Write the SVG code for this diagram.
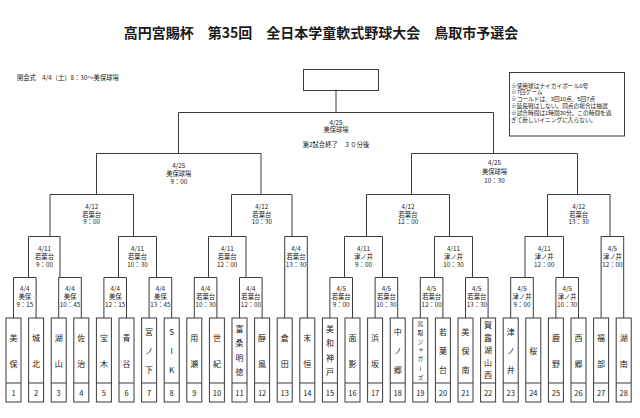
<svg xmlns="http://www.w3.org/2000/svg" width="640" height="418" viewBox="0 0 640 418">
<style>
text{font-family:"Noto Sans CJK JP","Noto Sans",sans-serif;fill:#1a1a1a}
.title{font-size:14px;font-weight:bold;text-anchor:middle}
.s{font-size:6.3px}
.nt{font-family:"Liberation Sans","Noto Sans CJK JP",sans-serif;font-size:5.7px}
.b{font-size:6.3px;text-anchor:middle}
.nm{font-size:8px;text-anchor:middle}
.nm2{font-size:5.8px}
.num{font-size:7.5px;text-anchor:middle}
.box{fill:none;stroke:#3a3a3a;stroke-width:1}
.br{fill:none;stroke:#3a3a3a;stroke-width:1}
</style>
<rect width="640" height="418" fill="#fff"/>
<text class="title" x="321" y="38">高円宮賜杯　第35回　全日本学童軟式野球大会　鳥取市予選会</text>
<text class="s" x="17" y="80">開会式　4/4（土）8：30～美保球場</text>

<g id="champion"><rect class="box" x="303.5" y="69.5" width="75" height="21"/></g>

<g id="notes">
<rect class="box" x="509.5" y="72.5" width="115" height="63.5"/>
<text class="nt" x="511" y="87.5">※使用球はナイガイボール0号</text>
<text class="nt" x="511" y="94.3">※7回ゲーム</text>
<text class="nt" x="511" y="101.1">※コールドは、3回10点、5回7点</text>
<text class="nt" x="511" y="107.9">※延長戦はしない。同点の場合は抽選</text>
<text class="nt" x="511" y="114.7">※試合時間は1時間30分。この時間を過</text>
<text class="nt" x="511" y="121.5">ぎて新しいイニングに入らない。</text>
</g>

<g id="connectors">
<path class="br" d="M336 90.5V112"/>
<path class="br" d="M178.5 153V112.5H493.5V153"/>
<path class="br" d="M96.5 194V153.5H261V194"/>
<path class="br" d="M411.5 194V153.5H577.5V194"/>
<path class="br" d="M50 236V194.5H133.5V236"/>
<path class="br" d="M231.5 236V194.5H292V236"/>
<path class="br" d="M366.5 236V194.5H449.5V236"/>
<path class="br" d="M547.5 236V194.5H610V236"/>
<path class="br" d="M28.5 277V236.5H60V277"/>
<path class="br" d="M118.5 277V236.5H156.5V277"/>
<path class="br" d="M208.5 277V236.5H246V277"/>
<path class="br" d="M284.7 318V236.5H307.3V318"/>
<path class="br" d="M344.5 277V236.5H382.5V277"/>
<path class="br" d="M434.5 277V236.5H472.5V277"/>
<path class="br" d="M525 277V236.5H563.5V277"/>
<path class="br" d="M601.1 318V236.5H623.7V318"/>
<path class="br" d="M13.5 318V277.5H36.1V318"/>
<path class="br" d="M58.7 318V277.5H81.3V318"/>
<path class="br" d="M103.9 318V277.5H126.5V318"/>
<path class="br" d="M149.1 318V277.5H171.7V318"/>
<path class="br" d="M194.3 318V277.5H216.9V318"/>
<path class="br" d="M239.5 318V277.5H262.1V318"/>
<path class="br" d="M329.9 318V277.5H352.5V318"/>
<path class="br" d="M375.1 318V277.5H397.7V318"/>
<path class="br" d="M420.3 318V277.5H442.9V318"/>
<path class="br" d="M465.5 318V277.5H488.1V318"/>
<path class="br" d="M510.7 318V277.5H533.3V318"/>
<path class="br" d="M555.9 318V277.5H578.5V318"/>
</g>

<g id="m-final"><text class="b" x="336" y="124.5">4/25</text><text class="b" x="336" y="132">美保球場</text><text class="b" x="336" y="146.5">第2試合終了　３０分後</text></g>
<g id="m-sf1"><text class="b" x="178.8" y="167.5">4/25</text><text class="b" x="178.8" y="175.5">美保球場</text><text class="b" x="178.8" y="183.5">9：00</text></g>
<g id="m-sf2"><text class="b" x="494.5" y="165">4/25</text><text class="b" x="494.5" y="174">美保球場</text><text class="b" x="494.5" y="182.5">10：30</text></g>
<g id="m-qf1"><text class="b" x="91.7" y="209">4/12</text><text class="b" x="91.7" y="216.5">若葉台</text><text class="b" x="91.7" y="224">9：00</text></g>
<g id="m-qf2"><text class="b" x="261.8" y="209">4/12</text><text class="b" x="261.8" y="216.5">若葉台</text><text class="b" x="261.8" y="224">10：30</text></g>
<g id="m-qf3"><text class="b" x="408" y="209">4/12</text><text class="b" x="408" y="216.5">若葉台</text><text class="b" x="408" y="224">12：00</text></g>
<g id="m-qf4"><text class="b" x="578.7" y="209">4/12</text><text class="b" x="578.7" y="216.5">若葉台</text><text class="b" x="578.7" y="224">13：30</text></g>
<g id="m-r2a"><text class="b" x="44.5" y="250.5">4/11</text><text class="b" x="44.5" y="258.5">若葉台</text><text class="b" x="44.5" y="266.5">9：00</text></g>
<g id="m-r2b"><text class="b" x="137.5" y="250.5">4/11</text><text class="b" x="137.5" y="258.5">若葉台</text><text class="b" x="137.5" y="266.5">10：30</text></g>
<g id="m-r2c"><text class="b" x="227.2" y="250.5">4/11</text><text class="b" x="227.2" y="258.5">若葉台</text><text class="b" x="227.2" y="266.5">12：00</text></g>
<g id="m-r2g"><text class="b" x="296" y="250.5">4/4</text><text class="b" x="296" y="258.5">若葉台</text><text class="b" x="296" y="266.5">13：30</text></g>
<g id="m-r2d"><text class="b" x="363.5" y="250.5">4/11</text><text class="b" x="363.5" y="258.5">津ノ井</text><text class="b" x="363.5" y="266.5">9：00</text></g>
<g id="m-r2e"><text class="b" x="453.5" y="250.5">4/11</text><text class="b" x="453.5" y="258.5">津ノ井</text><text class="b" x="453.5" y="266.5">10：30</text></g>
<g id="m-r2f"><text class="b" x="544.2" y="250.5">4/11</text><text class="b" x="544.2" y="258.5">津ノ井</text><text class="b" x="544.2" y="266.5">12：00</text></g>
<g id="m-r2n"><text class="b" x="612.4" y="250.5">4/5</text><text class="b" x="612.4" y="258.5">津ノ井</text><text class="b" x="612.4" y="266.5">12：00</text></g>
<g id="m-r1a"><text class="b" x="24.8" y="291">4/4</text><text class="b" x="24.8" y="299">美保</text><text class="b" x="24.8" y="307">9：15</text></g>
<g id="m-r1b"><text class="b" x="70" y="291">4/4</text><text class="b" x="70" y="299">美保</text><text class="b" x="70" y="307">10：45</text></g>
<g id="m-r1c"><text class="b" x="115.2" y="291">4/4</text><text class="b" x="115.2" y="299">美保</text><text class="b" x="115.2" y="307">12：15</text></g>
<g id="m-r1d"><text class="b" x="160.4" y="291">4/4</text><text class="b" x="160.4" y="299">美保</text><text class="b" x="160.4" y="307">13：45</text></g>
<g id="m-r1e"><text class="b" x="205.6" y="291">4/4</text><text class="b" x="205.6" y="299">若葉台</text><text class="b" x="205.6" y="307">10：30</text></g>
<g id="m-r1f"><text class="b" x="250.8" y="291">4/4</text><text class="b" x="250.8" y="299">若葉台</text><text class="b" x="250.8" y="307">12：00</text></g>
<g id="m-r1h"><text class="b" x="341.2" y="291">4/5</text><text class="b" x="341.2" y="299">若葉台</text><text class="b" x="341.2" y="307">9：00</text></g>
<g id="m-r1i"><text class="b" x="386.4" y="291">4/5</text><text class="b" x="386.4" y="299">若葉台</text><text class="b" x="386.4" y="307">10：30</text></g>
<g id="m-r1j"><text class="b" x="431.6" y="291">4/5</text><text class="b" x="431.6" y="299">若葉台</text><text class="b" x="431.6" y="307">12：00</text></g>
<g id="m-r1k"><text class="b" x="476.8" y="291">4/5</text><text class="b" x="476.8" y="299">若葉台</text><text class="b" x="476.8" y="307">13：30</text></g>
<g id="m-r1l"><text class="b" x="522" y="291">4/5</text><text class="b" x="522" y="299">津ノ井</text><text class="b" x="522" y="307">9：00</text></g>
<g id="m-r1m"><text class="b" x="567.2" y="291">4/5</text><text class="b" x="567.2" y="299">津ノ井</text><text class="b" x="567.2" y="307">10：30</text></g>

<g id="team1"><rect class="box" x="6" y="318" width="15" height="84"/><path class="box" d="M6 383H21"/><text class="nm"><tspan x="13.5" y="340.5">美</tspan><tspan x="13.5" y="366.5">保</tspan></text><text class="num" x="13.5" y="395.5">1</text></g>
<g id="team2"><rect class="box" x="28.6" y="318" width="15" height="84"/><path class="box" d="M28.6 383H43.6"/><text class="nm"><tspan x="36.1" y="340.5">城</tspan><tspan x="36.1" y="366.5">北</tspan></text><text class="num" x="36.1" y="395.5">2</text></g>
<g id="team3"><rect class="box" x="51.2" y="318" width="15" height="84"/><path class="box" d="M51.2 383H66.2"/><text class="nm"><tspan x="58.7" y="340.5">湖</tspan><tspan x="58.7" y="366.5">山</tspan></text><text class="num" x="58.7" y="395.5">3</text></g>
<g id="team4"><rect class="box" x="73.8" y="318" width="15" height="84"/><path class="box" d="M73.8 383H88.8"/><text class="nm"><tspan x="81.3" y="340.5">佐</tspan><tspan x="81.3" y="366.5">治</tspan></text><text class="num" x="81.3" y="395.5">4</text></g>
<g id="team5"><rect class="box" x="96.4" y="318" width="15" height="84"/><path class="box" d="M96.4 383H111.4"/><text class="nm"><tspan x="103.9" y="340.5">宝</tspan><tspan x="103.9" y="366.5">木</tspan></text><text class="num" x="103.9" y="395.5">5</text></g>
<g id="team6"><rect class="box" x="119" y="318" width="15" height="84"/><path class="box" d="M119 383H134"/><text class="nm"><tspan x="126.5" y="340.5">青</tspan><tspan x="126.5" y="366.5">谷</tspan></text><text class="num" x="126.5" y="395.5">6</text></g>
<g id="team7"><rect class="box" x="141.6" y="318" width="15" height="84"/><path class="box" d="M141.6 383H156.6"/><text class="nm"><tspan x="149.1" y="335">宮</tspan><tspan x="149.1" y="354">ノ</tspan><tspan x="149.1" y="373">下</tspan></text><text class="num" x="149.1" y="395.5">7</text></g>
<g id="team8"><rect class="box" x="164.2" y="318" width="15" height="84"/><path class="box" d="M164.2 383H179.2"/><text class="nm"><tspan x="171.7" y="335">S</tspan><tspan x="171.7" y="354">I</tspan><tspan x="171.7" y="373">K</tspan></text><text class="num" x="171.7" y="395.5">8</text></g>
<g id="team9"><rect class="box" x="186.8" y="318" width="15" height="84"/><path class="box" d="M186.8 383H201.8"/><text class="nm"><tspan x="194.3" y="340.5">用</tspan><tspan x="194.3" y="366.5">瀬</tspan></text><text class="num" x="194.3" y="395.5">9</text></g>
<g id="team10"><rect class="box" x="209.4" y="318" width="15" height="84"/><path class="box" d="M209.4 383H224.4"/><text class="nm"><tspan x="216.9" y="340.5">世</tspan><tspan x="216.9" y="366.5">紀</tspan></text><text class="num" x="216.9" y="395.5">10</text></g>
<g id="team11"><rect class="box" x="232" y="318" width="15" height="84"/><path class="box" d="M232 383H247"/><text class="nm"><tspan x="239.5" y="331.5">富</tspan><tspan x="239.5" y="346">桑</tspan><tspan x="239.5" y="360.5">明</tspan><tspan x="239.5" y="375">徳</tspan></text><text class="num" x="239.5" y="395.5">11</text></g>
<g id="team12"><rect class="box" x="254.6" y="318" width="15" height="84"/><path class="box" d="M254.6 383H269.6"/><text class="nm"><tspan x="262.1" y="340.5">醇</tspan><tspan x="262.1" y="366.5">風</tspan></text><text class="num" x="262.1" y="395.5">12</text></g>
<g id="team13"><rect class="box" x="277.2" y="318" width="15" height="84"/><path class="box" d="M277.2 383H292.2"/><text class="nm"><tspan x="284.7" y="340.5">倉</tspan><tspan x="284.7" y="366.5">田</tspan></text><text class="num" x="284.7" y="395.5">13</text></g>
<g id="team14"><rect class="box" x="299.8" y="318" width="15" height="84"/><path class="box" d="M299.8 383H314.8"/><text class="nm"><tspan x="307.3" y="340.5">末</tspan><tspan x="307.3" y="366.5">恒</tspan></text><text class="num" x="307.3" y="395.5">14</text></g>
<g id="team15"><rect class="box" x="322.4" y="318" width="15" height="84"/><path class="box" d="M322.4 383H337.4"/><text class="nm"><tspan x="329.9" y="331.5">美</tspan><tspan x="329.9" y="346">和</tspan><tspan x="329.9" y="360.5">神</tspan><tspan x="329.9" y="375">戸</tspan></text><text class="num" x="329.9" y="395.5">15</text></g>
<g id="team16"><rect class="box" x="345" y="318" width="15" height="84"/><path class="box" d="M345 383H360"/><text class="nm"><tspan x="352.5" y="340.5">面</tspan><tspan x="352.5" y="366.5">影</tspan></text><text class="num" x="352.5" y="395.5">16</text></g>
<g id="team17"><rect class="box" x="367.6" y="318" width="15" height="84"/><path class="box" d="M367.6 383H382.6"/><text class="nm"><tspan x="375.1" y="340.5">浜</tspan><tspan x="375.1" y="366.5">坂</tspan></text><text class="num" x="375.1" y="395.5">17</text></g>
<g id="team18"><rect class="box" x="390.2" y="318" width="15" height="84"/><path class="box" d="M390.2 383H405.2"/><text class="nm"><tspan x="397.7" y="335">中</tspan><tspan x="397.7" y="354">ノ</tspan><tspan x="397.7" y="373">郷</tspan></text><text class="num" x="397.7" y="395.5">18</text></g>
<g id="team19"><rect class="box" x="412.8" y="318" width="15" height="84"/><path class="box" d="M412.8 383H427.8"/><text class="nm2" writing-mode="vertical-rl"><tspan x="420.3" y="320.5">鳥</tspan><tspan x="420.3" y="329.5">取</tspan><tspan x="420.3" y="338.5">ジ</tspan><tspan x="420.3" y="347.5">ャ</tspan><tspan x="420.3" y="356.5">ガ</tspan><tspan x="420.3" y="365.5">ー</tspan><tspan x="420.3" y="374.5">ズ</tspan></text><text class="num" x="420.3" y="395.5">19</text></g>
<g id="team20"><rect class="box" x="435.4" y="318" width="15" height="84"/><path class="box" d="M435.4 383H450.4"/><text class="nm"><tspan x="442.9" y="335">若</tspan><tspan x="442.9" y="354">葉</tspan><tspan x="442.9" y="373">台</tspan></text><text class="num" x="442.9" y="395.5">20</text></g>
<g id="team21"><rect class="box" x="458" y="318" width="15" height="84"/><path class="box" d="M458 383H473"/><text class="nm"><tspan x="465.5" y="335">美</tspan><tspan x="465.5" y="354">保</tspan><tspan x="465.5" y="373">南</tspan></text><text class="num" x="465.5" y="395.5">21</text></g>
<g id="team22"><rect class="box" x="480.6" y="318" width="15" height="84"/><path class="box" d="M480.6 383H495.6"/><text class="nm"><tspan x="488.1" y="328">賀</tspan><tspan x="488.1" y="340.5">露</tspan><tspan x="488.1" y="353">湖</tspan><tspan x="488.1" y="365.5">山</tspan><tspan x="488.1" y="378">西</tspan></text><text class="num" x="488.1" y="395.5">22</text></g>
<g id="team23"><rect class="box" x="503.2" y="318" width="15" height="84"/><path class="box" d="M503.2 383H518.2"/><text class="nm"><tspan x="510.7" y="335">津</tspan><tspan x="510.7" y="354">ノ</tspan><tspan x="510.7" y="373">井</tspan></text><text class="num" x="510.7" y="395.5">23</text></g>
<g id="team24"><rect class="box" x="525.8" y="318" width="15" height="84"/><path class="box" d="M525.8 383H540.8"/><text class="nm" x="533.3" y="353.5">桜</text><text class="num" x="533.3" y="395.5">24</text></g>
<g id="team25"><rect class="box" x="548.4" y="318" width="15" height="84"/><path class="box" d="M548.4 383H563.4"/><text class="nm"><tspan x="555.9" y="340.5">鹿</tspan><tspan x="555.9" y="366.5">野</tspan></text><text class="num" x="555.9" y="395.5">25</text></g>
<g id="team26"><rect class="box" x="571" y="318" width="15" height="84"/><path class="box" d="M571 383H586"/><text class="nm"><tspan x="578.5" y="340.5">西</tspan><tspan x="578.5" y="366.5">郷</tspan></text><text class="num" x="578.5" y="395.5">26</text></g>
<g id="team27"><rect class="box" x="593.6" y="318" width="15" height="84"/><path class="box" d="M593.6 383H608.6"/><text class="nm"><tspan x="601.1" y="340.5">福</tspan><tspan x="601.1" y="366.5">部</tspan></text><text class="num" x="601.1" y="395.5">27</text></g>
<g id="team28"><rect class="box" x="616.2" y="318" width="15" height="84"/><path class="box" d="M616.2 383H631.2"/><text class="nm"><tspan x="623.7" y="340.5">湖</tspan><tspan x="623.7" y="366.5">南</tspan></text><text class="num" x="623.7" y="395.5">28</text></g>
</svg>
